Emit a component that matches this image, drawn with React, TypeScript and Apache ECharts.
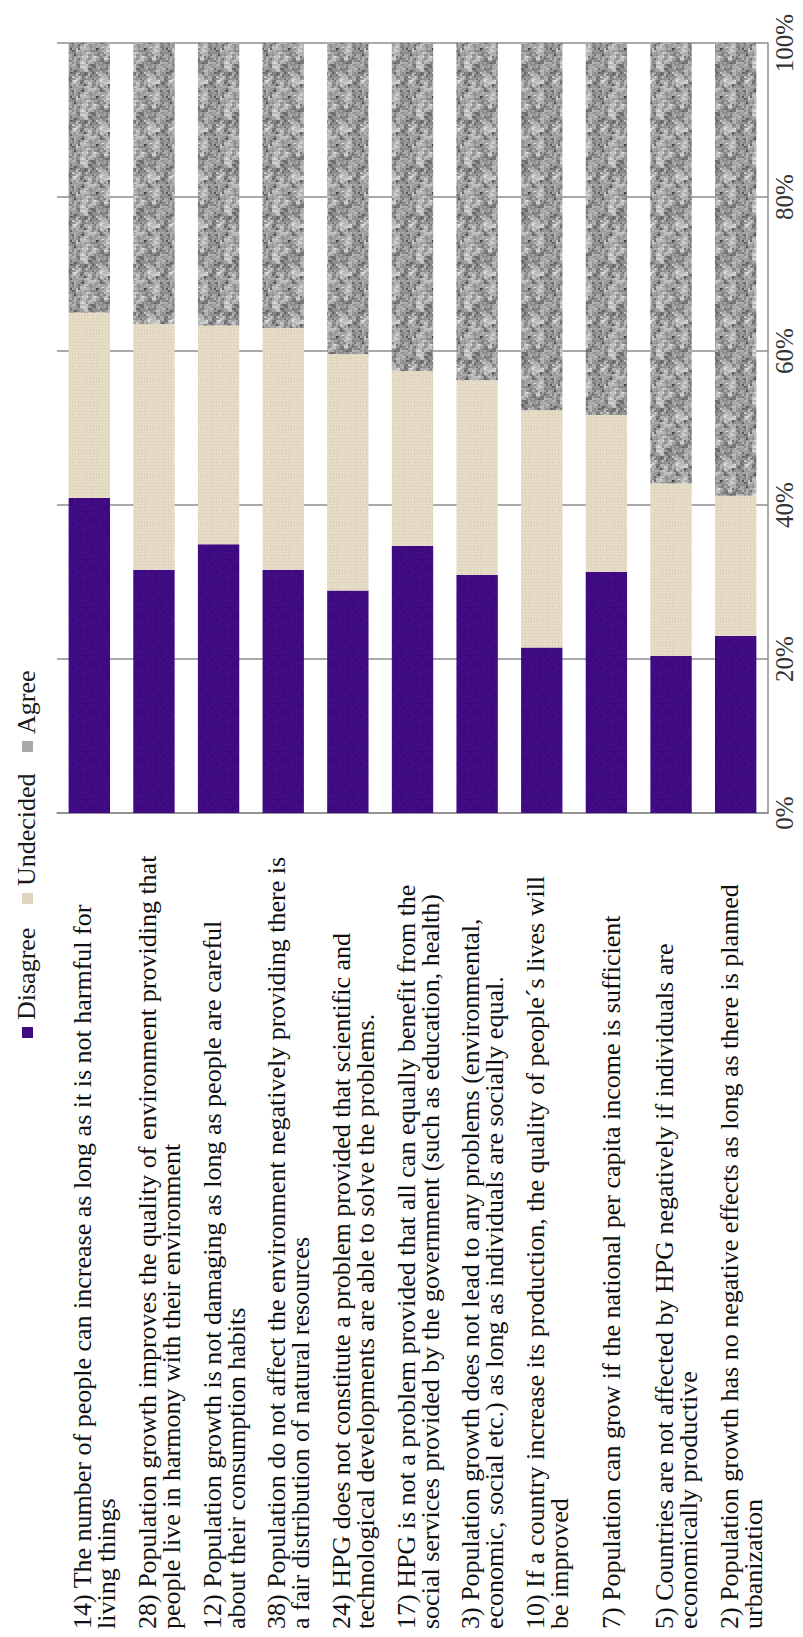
import React, { useEffect, useRef } from "react";
import * as echarts from "echarts";

const categories = [
  "14) The number of people can increase as long as it is not harmful for\nliving things",
  "28) Population growth improves the quality of environment providing that\npeople live in harmony with their environment",
  "12) Population growth is not damaging as long as people are careful\nabout their consumption habits",
  "38) Population do not affect the environment negatively providing there is\na fair distribution of natural resources",
  "24) HPG does not constitute a problem provided that scientific and\ntechnological developments are able to solve the problems.",
  "17) HPG is not a problem provided that all can equally benefit from the\nsocial services provided by the government (such as education, health)",
  "3) Population growth does not lead to any problems (environmental,\neconomic, social etc.) as long as individuals are socially equal.",
  "10) If a country increase its production, the quality of people´s lives will\nbe improved",
  "7) Population can grow if the national per capita income is sufficient",
  "5) Countries are not affected by HPG negatively if individuals are\neconomically productive",
  "2) Population growth has no negative effects as long as there is planned\nurbanization",
];

const seriesNames = ["Disagree", "Undecided", "Agree"];
const disagree = [40.9, 31.6, 34.9, 31.6, 28.9, 34.7, 30.9, 21.5, 31.3, 20.4, 23.0];
const undecided = [24.1, 31.9, 28.4, 31.4, 30.7, 22.7, 25.3, 30.8, 20.4, 22.4, 18.2];
const agree = [35.0, 36.5, 36.7, 37.0, 40.4, 42.6, 43.8, 47.7, 48.3, 57.2, 58.8];

const valueMin = 0;
const valueMax = 100;
const valueStep = 20;

const SERIF = "'Liberation Serif', 'Times New Roman', serif";

function hash(i: number, j: number, s: number): number {
  let n = (Math.imul(i, 374761393) + Math.imul(j, 668265263) + Math.imul(s, 1442695041)) | 0;
  n = Math.imul(n ^ (n >>> 13), 1274126177);
  n ^= n >>> 16;
  return (n >>> 0) / 4294967295;
}

function makeTexture(kind: string) {
  const size = 48;
  const c = document.createElement("canvas");
  c.width = size;
  c.height = size;
  const ctx = c.getContext("2d")!;
  const img = ctx.createImageData(size, size);
  for (let y = 0; y < size; y++) {
    for (let x = 0; x < size; x++) {
      let r = 0, g = 0, b = 0;
      if (kind === "granite") {
        const v =
          0.35 * hash(x >> 1, y >> 1, 1) +
          0.35 * hash(x >> 2, y >> 2, 2) +
          0.3 * hash(x >> 3, (y + (x >> 2)) >> 3, 6);
        let gray = 85 + v * 155;
        if (hash(x >> 1, y >> 1, 3) < 0.06) gray -= 50;
        r = g = b = gray;
      } else if (kind === "linen") {
        const n = (hash(x, y, 4) - 0.5) * 8;
        let base = 0;
        if (x % 3 === 0 || y % 3 === 0) base = -9;
        r = 233 + base + n;
        g = 223 + base + n;
        b = 201 + base + n;
      } else {
        const n = (hash(x >> 1, y >> 1, 5) - 0.5) * 16;
        r = 63 + n * 0.6;
        g = 11 + n * 0.3;
        b = 130 + n;
      }
      const k = (y * size + x) * 4;
      img.data[k] = Math.max(0, Math.min(255, r));
      img.data[k + 1] = Math.max(0, Math.min(255, g));
      img.data[k + 2] = Math.max(0, Math.min(255, b));
      img.data[k + 3] = 255;
    }
  }
  ctx.putImageData(img, 0, 0);
  return { image: c.toDataURL(), repeat: "repeat", imageWidth: size, imageHeight: size };
}

export default function App() {
  const ref = useRef<HTMLDivElement>(null);

  useEffect(() => {
    if (!ref.current) return;
    const chart = echarts.init(ref.current, null, { renderer: "svg" });

    const purple = makeTexture("purple");
    const linen = makeTexture("linen");
    const granite = makeTexture("granite");
    const fills = [purple, linen, granite];
    const seriesData = [disagree, undecided, agree];
    const legendColors = ["#3e0c80", "#ddd4c2", "#a8a8a8"];

    const legendTextPos = [1020, 886, 734];
    const legendMarkPos = [1027, 893, 741];

    const graphic: any[] = [];
    seriesNames.forEach((name, i) => {
      graphic.push({
        type: "rect",
        shape: { x: 22, y: legendMarkPos[i], width: 11, height: 11 },
        style: { fill: legendColors[i] },
      });
      graphic.push({
        type: "text",
        x: 26.5,
        y: legendTextPos[i],
        rotation: Math.PI / 2,
        style: {
          text: name,
          fontFamily: SERIF,
          fontSize: 26,
          fill: "#1a1a1a",
          align: "left",
          verticalAlign: "middle",
          textAlign: "left",
          textVerticalAlign: "middle",
        },
      });
    });

    const option: any = {
      animation: false,
      backgroundColor: "#ffffff",
      grid: { left: 57, right: 35, top: 43, bottom: 824, containLabel: false },
      xAxis: {
        type: "category",
        data: categories,
        position: "bottom",
        axisLine: { show: true, lineStyle: { color: "#8c8c8c", width: 1.5 } },
        axisTick: { show: false },
        splitLine: { show: false },
        axisLabel: {
          interval: 0,
          rotate: 90,
          margin: 10,
          width: 806,
          overflow: "none",
          padding: [11, 0, 0, 0],
          formatter: (v: string) => `{t|${v}}`,
          rich: {
            t: { fontFamily: SERIF, fontSize: 26, lineHeight: 24, color: "#111111", align: "left" },
          },
        },
      },
      yAxis: {
        type: "value",
        position: "right",
        min: valueMin,
        max: valueMax,
        interval: valueStep,
        axisLine: { show: true, lineStyle: { color: "#8c8c8c", width: 1.5 } },
        axisTick: { show: false },
        splitLine: { show: true, lineStyle: { color: "#8c8c8c", width: 1.5 } },
        axisLabel: {
          rotate: 90,
          margin: 4,
          formatter: "{value}%",
          fontFamily: SERIF,
          fontSize: 25,
          color: "#333333",
        },
      },
      series: seriesNames.map((name, i) => ({
        name,
        type: "bar",
        stack: "total",
        barCategoryGap: "36%",
        data: seriesData[i],
        itemStyle: { color: fills[i] },
      })),
      graphic,
    };

    chart.setOption(option);
    return () => chart.dispose();
  }, []);

  return (
    <div
      ref={ref}
      style={{ position: "fixed", left: 0, top: 0, width: 803, height: 1637, background: "#fff" }}
    />
  );
}
